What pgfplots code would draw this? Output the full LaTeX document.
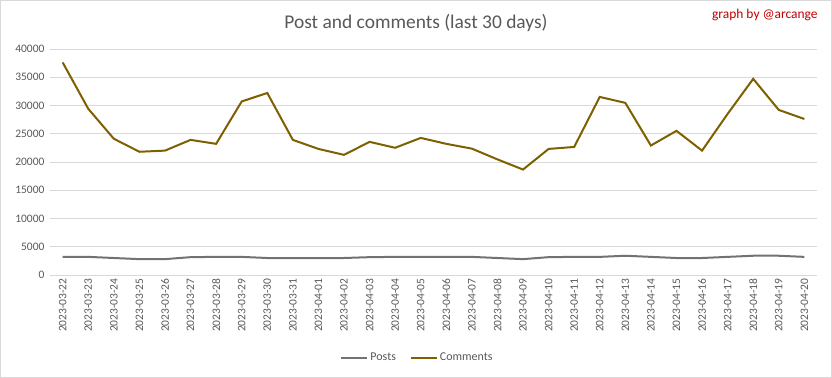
\documentclass[border=0pt]{standalone}
\usepackage{pgfplots}
\pgfplotsset{compat=1.18}
\usepackage{pgfplotstable}
\usepackage{fontspec}
\setmainfont{Carlito}
\definecolor{comm}{HTML}{7F6000}
\definecolor{postc}{HTML}{767171}
\definecolor{txt}{HTML}{595959}
\definecolor{gridc}{HTML}{D9D9D9}
\definecolor{sig}{HTML}{C00000}
\pgfplotstableread{
i date posts comments
0 2023-03-22 3200 37600
1 2023-03-23 3200 29400
2 2023-03-24 3000 24100
3 2023-03-25 2800 21800
4 2023-03-26 2800 22000
5 2023-03-27 3150 23900
6 2023-03-28 3200 23200
7 2023-03-29 3200 30700
8 2023-03-30 3000 32200
9 2023-03-31 3000 23900
10 2023-04-01 3000 22300
11 2023-04-02 3000 21250
12 2023-04-03 3150 23550
13 2023-04-04 3200 22500
14 2023-04-05 3200 24250
15 2023-04-06 3200 23200
16 2023-04-07 3200 22350
17 2023-04-08 3000 20450
18 2023-04-09 2800 18650
19 2023-04-10 3150 22300
20 2023-04-11 3200 22650
21 2023-04-12 3200 31500
22 2023-04-13 3400 30450
23 2023-04-14 3200 22900
24 2023-04-15 3000 25500
25 2023-04-16 3000 22000
26 2023-04-17 3200 28500
27 2023-04-18 3400 34700
28 2023-04-19 3400 29200
29 2023-04-20 3200 27600
}\datatable
\begin{document}
\begin{tikzpicture}[x=1bp,y=1bp]
\draw[gridc, line width=0.75bp, fill=white] (0.5,0.5) rectangle (831.5,377.5);
\begin{axis}[
  at={(50bp,103bp)}, anchor=south west,
  scale only axis, width=767bp, height=226bp,
  xmin=-0.5, xmax=29.5, ymin=0, ymax=40000,
  axis line style={draw=none},
  major tick length=0pt,
  ytick={0,5000,...,40000},
  scaled y ticks=false,
  /pgf/number format/fixed,
  /pgf/number format/1000 sep={},
  /pgf/number format/assume math mode=true,
  yticklabel style={font=\fontsize{11.5}{12}\selectfont, text=txt, xshift=-2bp},
  xmajorgrids=false, ymajorgrids=true, grid style={draw=gridc, line width=0.75bp},
  xtick=data,
  xticklabels from table={\datatable}{date},
  xticklabel style={rotate=90, anchor=east, font=\fontsize{11.5}{12}\selectfont, text=txt},
  legend style={at={(0.5,-0.3)}, anchor=center, yshift=-15bp, xshift=-16bp, draw=none, fill=none, legend columns=2, font=\fontsize{12}{13}\selectfont, text=txt, /tikz/every even column/.append style={column sep=12bp}},
  legend image code/.code={\draw[#1] (0bp,0bp) -- (26bp,0bp);},
  clip=false,
]
\addplot[postc, line width=2bp, no markers] table[x=i, y=posts] {\datatable};
\addlegendentry{Posts}
\addplot[comm, line width=2bp, no markers] table[x=i, y=comments] {\datatable};
\addlegendentry{Comments}
\end{axis}
\node[text=txt, font=\fontsize{19.5}{21}\selectfont] at (416,355) {Post and comments (last 30 days)};
\node[text=sig, font=\fontsize{13.5}{14}\selectfont, anchor=east] at (821,363) {graph by @arcange};
\end{tikzpicture}
\end{document}
